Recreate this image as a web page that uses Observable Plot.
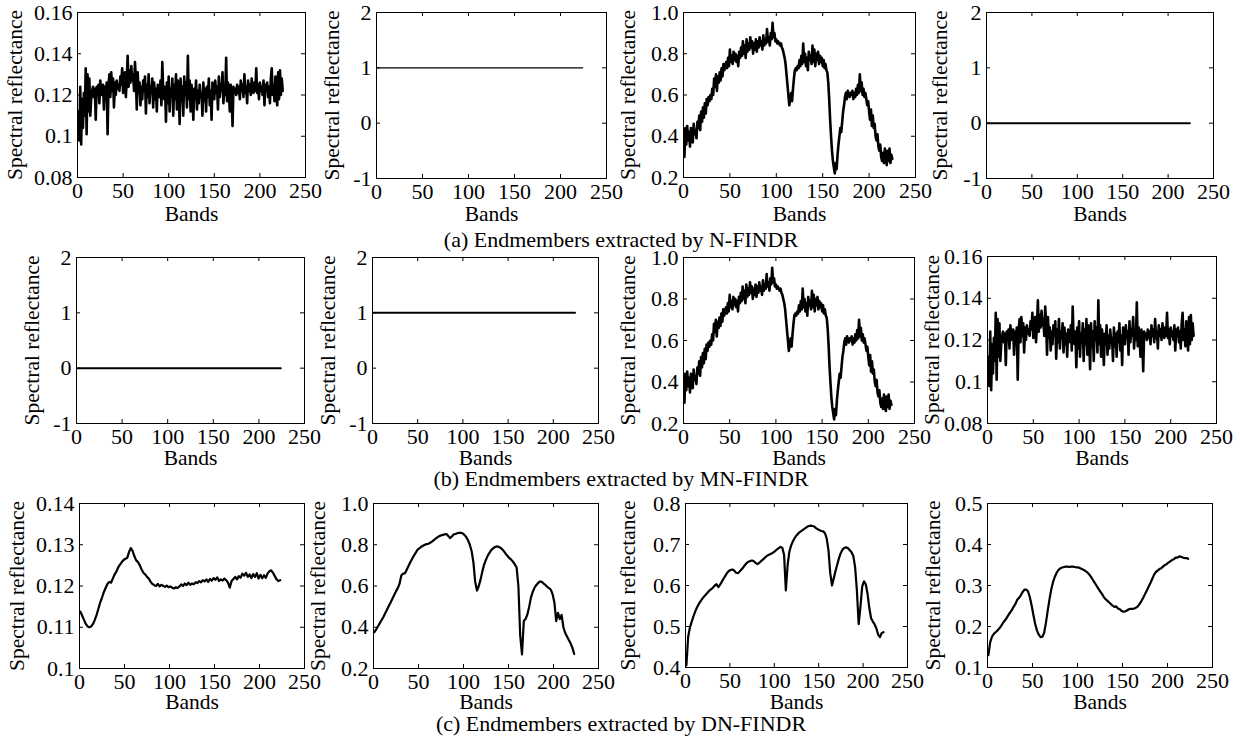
<!DOCTYPE html>
<html><head><meta charset="utf-8">
<script src="https://cdn.jsdelivr.net/npm/d3@7"></script>
<script src="https://cdn.jsdelivr.net/npm/@observablehq/plot@0.6"></script>
<style>
html,body{margin:0;padding:0;background:#fff;}
#chart{position:relative;width:1240px;height:742px;overflow:hidden;background:#fff;font-family:"Liberation Serif","Times New Roman",Times,"DejaVu Serif",serif;color:#000;}
.panel{position:absolute;}
.caption{position:absolute;transform:translateX(-50%);font-size:22px;line-height:22px;white-space:nowrap;}
</style></head><body><div id="chart"></div>
<script>
// ---------- data ----------
const xTicks = [0, 50, 100, 150, 200, 250];
const xLabel = "Bands";
const yLabel = "Spectral reflectance";
const captions = [
  "(a) Endmembers extracted by N-FINDR",
  "(b) Endmembers extracted by MN-FINDR",
  "(c) Endmembers extracted by DN-FINDR"
];

// noisy endmember (~0.12), bands 1..225
const noisyValues = [
0.112,0.098,0.124,0.096,0.118,0.104,0.121,0.110,0.133,0.101,0.130,0.112,0.128,0.110,0.118,
0.122,0.124,0.119,0.123,0.108,0.124,0.121,0.125,0.116,0.127,0.122,0.120,0.125,0.113,0.124,
0.118,0.126,0.101,0.125,0.130,0.119,0.131,0.122,0.128,0.114,0.126,0.120,0.127,0.123,0.125,
0.122,0.129,0.125,0.133,0.121,0.128,0.131,0.119,0.127,0.139,0.124,0.132,0.126,0.134,0.127,
0.130,0.122,0.136,0.128,0.113,0.131,0.121,0.126,0.115,0.124,0.118,0.127,0.122,0.129,0.111,
0.125,0.119,0.130,0.116,0.124,0.121,0.128,0.114,0.126,0.118,0.123,0.112,0.125,0.120,0.119,
0.127,0.115,0.136,0.121,0.118,0.124,0.107,0.126,0.116,0.129,0.112,0.123,0.119,0.128,0.110,
0.125,0.118,0.130,0.113,0.127,0.121,0.106,0.128,0.117,0.124,0.110,0.129,0.120,0.126,0.114,
0.139,0.118,0.127,0.112,0.125,0.120,0.108,0.123,0.118,0.127,0.113,0.122,0.116,0.125,0.119,
0.121,0.110,0.126,0.117,0.123,0.112,0.124,0.119,0.128,0.115,0.122,0.108,0.126,0.120,0.118,
0.127,0.121,0.124,0.113,0.129,0.119,0.125,0.122,0.131,0.116,0.124,0.120,0.138,0.117,0.126,
0.121,0.112,0.125,0.119,0.105,0.124,0.122,0.123,0.120,0.125,0.121,0.124,0.118,0.127,0.122,
0.125,0.119,0.130,0.121,0.124,0.116,0.127,0.122,0.125,0.120,0.128,0.123,0.121,0.126,0.122,
0.133,0.121,0.125,0.118,0.126,0.122,0.124,0.120,0.127,0.115,0.125,0.122,0.126,0.119,0.124,
0.116,0.128,0.133,0.120,0.125,0.117,0.129,0.121,0.115,0.131,0.118,0.132,0.120,0.128,0.122
];

// noisy vegetation-like endmember (0.2-1.0), bands 1..225
const vegValues = [
0.30,0.44,0.36,0.45,0.38,0.42,0.35,0.44,0.40,0.37,0.46,0.41,0.43,0.39,0.47,
0.44,0.50,0.43,0.52,0.47,0.54,0.49,0.56,0.51,0.58,0.55,0.59,0.57,0.60,0.58,
0.63,0.60,0.68,0.64,0.70,0.62,0.69,0.66,0.71,0.67,0.73,0.69,0.75,0.72,0.74,
0.76,0.73,0.78,0.74,0.82,0.76,0.79,0.75,0.81,0.77,0.80,0.76,0.79,0.74,0.81,
0.78,0.83,0.79,0.86,0.80,0.84,0.78,0.87,0.81,0.85,0.82,0.88,0.83,0.86,0.80,
0.85,0.82,0.87,0.81,0.86,0.83,0.88,0.84,0.86,0.82,0.89,0.84,0.87,0.85,0.92,
0.86,0.88,0.84,0.90,0.87,0.95,0.88,0.90,0.86,0.87,0.85,0.86,0.85,0.84,0.85,
0.83,0.82,0.80,0.78,0.75,0.70,0.65,0.60,0.55,0.58,0.61,0.57,0.63,0.68,0.72,
0.73,0.72,0.74,0.73,0.77,0.74,0.79,0.75,0.85,0.76,0.80,0.74,0.78,0.72,0.81,
0.77,0.79,0.75,0.84,0.76,0.82,0.74,0.80,0.77,0.81,0.75,0.79,0.76,0.78,0.74,
0.77,0.73,0.75,0.72,0.71,0.66,0.58,0.48,0.40,0.33,0.28,0.25,0.22,0.27,0.24,
0.31,0.36,0.40,0.44,0.42,0.47,0.52,0.55,0.59,0.61,0.58,0.62,0.60,0.59,0.61,
0.60,0.62,0.58,0.61,0.59,0.63,0.60,0.65,0.61,0.70,0.62,0.66,0.60,0.63,0.59,
0.61,0.58,0.55,0.57,0.52,0.48,0.53,0.45,0.50,0.44,0.46,0.40,0.38,0.41,0.35,
0.33,0.36,0.30,0.28,0.32,0.27,0.34,0.29,0.26,0.33,0.28,0.34,0.27,0.31,0.29
];

// flat endmembers (bands 1 and 224)
const flatBands = [1, 224];
const flatOne = [1, 1];
const flatZero = [0, 0];

// DN-FINDR endmembers, sampled at bands 1,3,5,...,223
const dn1Values = [
0.1138,0.1128,0.1118,0.1108,0.1102,0.1100,0.1102,0.1108,0.1118,0.1130,0.1145,0.1160,0.1172,0.1185,0.1195,0.1205,
0.1210,0.1208,0.1218,0.1228,0.1235,0.1245,0.1252,0.1258,0.1263,0.1266,0.1268,0.1282,0.1292,0.1285,0.1272,0.1262,
0.1258,0.1250,0.1240,0.1232,0.1228,0.1222,0.1218,0.1210,0.1205,0.1202,0.1200,0.1205,0.1199,0.1203,0.1200,0.1198,
0.1201,0.1197,0.1199,0.1196,0.1194,0.1197,0.1195,0.1199,0.1204,0.1200,0.1206,0.1202,0.1208,0.1203,0.1206,0.1204,
0.1209,0.1207,0.1212,0.1209,0.1214,0.1211,0.1216,0.1210,0.1217,0.1213,0.1219,0.1215,0.1221,0.1212,0.1216,0.1213,
0.1218,0.1214,0.1208,0.1196,0.1212,0.1217,0.1222,0.1216,0.1224,0.1220,0.1230,0.1225,0.1232,0.1222,0.1228,0.1219,
0.1229,0.1222,0.1231,0.1218,0.1227,0.1219,0.1226,0.1220,0.1230,0.1236,0.1238,0.1232,0.1224,0.1216,0.1212,0.1214
];
const dn2Values = [
0.376,0.390,0.405,0.420,0.435,0.450,0.468,0.485,0.503,0.520,0.538,0.556,0.574,0.590,0.612,0.652,
0.660,0.662,0.680,0.698,0.716,0.732,0.748,0.762,0.776,0.783,0.790,0.795,0.800,0.803,0.805,0.810,
0.815,0.822,0.830,0.836,0.842,0.845,0.848,0.850,0.852,0.843,0.832,0.840,0.850,0.852,0.856,0.858,
0.858,0.855,0.848,0.838,0.822,0.800,0.770,0.715,0.620,0.578,0.600,0.632,0.672,0.705,0.728,0.748,
0.762,0.775,0.783,0.789,0.792,0.790,0.786,0.778,0.768,0.756,0.745,0.735,0.728,0.718,0.705,0.690,
0.600,0.360,0.268,0.430,0.440,0.462,0.500,0.545,0.572,0.592,0.605,0.615,0.622,0.620,0.612,0.605,
0.596,0.590,0.582,0.560,0.520,0.430,0.470,0.440,0.460,0.400,0.372,0.355,0.338,0.322,0.300,0.270
];
const dn3Values = [
0.405,0.475,0.498,0.512,0.525,0.537,0.547,0.555,0.562,0.568,0.573,0.578,0.583,0.588,0.591,0.595,
0.600,0.603,0.596,0.602,0.610,0.617,0.624,0.631,0.636,0.638,0.639,0.636,0.631,0.630,0.634,0.639,
0.644,0.650,0.655,0.658,0.660,0.661,0.659,0.655,0.652,0.655,0.659,0.663,0.667,0.671,0.674,0.676,
0.678,0.681,0.684,0.688,0.691,0.694,0.692,0.675,0.588,0.650,0.683,0.698,0.708,0.716,0.722,0.727,
0.731,0.734,0.737,0.740,0.743,0.745,0.746,0.745,0.744,0.740,0.737,0.735,0.733,0.732,0.728,0.715,
0.686,0.630,0.600,0.618,0.636,0.652,0.668,0.680,0.688,0.692,0.693,0.691,0.686,0.681,0.672,0.645,
0.588,0.506,0.548,0.598,0.610,0.603,0.580,0.545,0.520,0.512,0.505,0.495,0.480,0.474,0.484,0.486
];
const dn4Values = [
0.130,0.162,0.175,0.182,0.186,0.190,0.195,0.201,0.208,0.214,0.220,0.227,0.234,0.240,0.248,0.255,
0.265,0.270,0.276,0.284,0.290,0.290,0.286,0.272,0.252,0.228,0.206,0.190,0.180,0.174,0.175,0.185,
0.210,0.240,0.268,0.292,0.310,0.322,0.332,0.338,0.342,0.344,0.345,0.346,0.346,0.345,0.346,0.346,
0.345,0.344,0.344,0.342,0.340,0.338,0.335,0.332,0.327,0.321,0.314,0.307,0.300,0.293,0.286,0.280,
0.273,0.267,0.263,0.259,0.255,0.251,0.248,0.249,0.244,0.242,0.238,0.236,0.237,0.239,0.242,0.243,
0.243,0.244,0.246,0.249,0.255,0.262,0.270,0.279,0.288,0.297,0.306,0.316,0.326,0.333,0.336,0.340,
0.342,0.346,0.350,0.352,0.356,0.359,0.362,0.364,0.368,0.368,0.371,0.370,0.368,0.367,0.367,0.365
];

// y-axis ticks and their printed labels
const yTicksSmall = [0.08, 0.10, 0.12, 0.14, 0.16];
const yLabelsSmall = ["0.08", "0.1", "0.12", "0.14", "0.16"];
const yTicksFlat = [-1, 0, 1, 2];
const yLabelsFlat = ["-1", "0", "1", "2"];
const yTicksVeg = [0.2, 0.4, 0.6, 0.8, 1.0];
const yLabelsVeg = ["0.2", "0.4", "0.6", "0.8", "1.0"];
const yTicksDn1 = [0.10, 0.11, 0.12, 0.13, 0.14];
const yLabelsDn1 = ["0.1", "0.11", "0.12", "0.13", "0.14"];
const yTicksDn3 = [0.4, 0.5, 0.6, 0.7, 0.8];
const yLabelsDn3 = ["0.4", "0.5", "0.6", "0.7", "0.8"];
const yTicksDn4 = [0.1, 0.2, 0.3, 0.4, 0.5];
const yLabelsDn4 = ["0.1", "0.2", "0.3", "0.4", "0.5"];

// ---------- layout ----------
const fullBands = d3.range(1, noisyValues.length + 1);
const halfBands = d3.range(0, dn1Values.length).map(i => 1 + 2 * i);

const panels = [
  {frame: [77, 12, 305, 177], labelX: 15, xlabDy: 37, bands: fullBands, values: noisyValues, ticks: yTicksSmall, labels: yLabelsSmall, lw: 2.6},
  {frame: [376, 12, 606, 178], labelX: 332, xlabDy: 36, bands: flatBands, values: flatOne, ticks: yTicksFlat, labels: yLabelsFlat, lw: 1.4},
  {frame: [683, 12, 915, 177], labelX: 628, xlabDy: 37, bands: fullBands, values: vegValues, ticks: yTicksVeg, labels: yLabelsVeg, lw: 2.6},
  {frame: [986, 12, 1213, 178], labelX: 940, xlabDy: 36, bands: flatBands, values: flatZero, ticks: yTicksFlat, labels: yLabelsFlat, lw: 2},
  {frame: [76, 257, 304, 423], labelX: 32, xlabDy: 35, bands: flatBands, values: flatZero, ticks: yTicksFlat, labels: yLabelsFlat, lw: 2},
  {frame: [372, 257, 598, 423], labelX: 328, xlabDy: 35, bands: flatBands, values: flatOne, ticks: yTicksFlat, labels: yLabelsFlat, lw: 2},
  {frame: [683, 257, 914, 423], labelX: 628, xlabDy: 35, bands: fullBands, values: vegValues, ticks: yTicksVeg, labels: yLabelsVeg, lw: 2.6},
  {frame: [987, 256, 1216, 423], labelX: 932, xlabDy: 35, bands: fullBands, values: noisyValues, ticks: yTicksSmall, labels: yLabelsSmall, lw: 2.6},
  {frame: [79, 503, 304, 668], labelX: 17, xlabDy: 34, bands: halfBands, values: dn1Values, ticks: yTicksDn1, labels: yLabelsDn1, lw: 2.2},
  {frame: [373, 503, 598, 668], labelX: 318, xlabDy: 34, bands: halfBands, values: dn2Values, ticks: yTicksVeg, labels: yLabelsVeg, lw: 2.2},
  {frame: [685, 503, 907, 667], labelX: 628, xlabDy: 35, bands: halfBands, values: dn3Values, ticks: yTicksDn3, labels: yLabelsDn3, lw: 2.2},
  {frame: [987, 503, 1212, 667], labelX: 933, xlabDy: 35, bands: halfBands, values: dn4Values, ticks: yTicksDn4, labels: yLabelsDn4, lw: 2.2}
];
const captionY = [240, 479, 724];
const captionX = 621;

const FONT = '"Liberation Serif","Times New Roman",Times,"DejaVu Serif",serif';
const M = {left: 80, right: 24, top: 10, bottom: 50};
const TICK = 4;
const chart = document.getElementById("chart");

for (const p of panels) {
  const [L, T, R, B] = p.frame;
  const w = R - L, h = B - T;
  const data = p.values.map((v, i) => ({band: p.bands[i], value: v}));
  const fmt = d => {
    const i = p.ticks.findIndex(t => Math.abs(t - d) < 1e-9);
    return i >= 0 ? p.labels[i] : "";
  };
  const svg = Plot.plot({
    width: w + M.left + M.right,
    height: h + M.top + M.bottom,
    marginLeft: M.left, marginRight: M.right, marginTop: M.top, marginBottom: M.bottom,
    style: {fontFamily: FONT, fontSize: "22px", color: "black", background: "transparent", overflow: "visible"},
    x: {domain: [0, 250]},
    y: {domain: [p.ticks[0], p.ticks[p.ticks.length - 1]]},
    marks: [
      Plot.line(data, {x: "band", y: "value", stroke: "black", strokeWidth: p.lw}),
      Plot.ruleX(xTicks, {x: d => d, stroke: "black", insetTop: h - TICK}),
      Plot.ruleX(xTicks, {x: d => d, stroke: "black", insetBottom: h - TICK}),
      Plot.ruleY(p.ticks, {y: d => d, stroke: "black", insetRight: w - TICK}),
      Plot.ruleY(p.ticks, {y: d => d, stroke: "black", insetLeft: w - TICK}),
      Plot.frame({stroke: "black", strokeWidth: 1}),
      Plot.axisX({ticks: xTicks, tickSize: 0, tickPadding: 5, fontSize: 22, fontFamily: FONT, label: null, tickFormat: d => String(d)}),
      Plot.axisY({ticks: p.ticks, tickSize: 0, tickPadding: 5, fontSize: 22, fontFamily: FONT, label: null, tickFormat: fmt}),
      Plot.text([xLabel], {text: d => d, frameAnchor: "bottom", dy: p.xlabDy, lineAnchor: "middle", textAnchor: "middle", fontSize: 21.5, fontFamily: FONT}),
      Plot.text([yLabel], {text: d => d, frameAnchor: "left", dx: -(L - p.labelX), rotate: -90, lineAnchor: "middle", textAnchor: "middle", fontSize: 21.5, fontFamily: FONT})
    ]
  });
  const div = document.createElement("div");
  div.className = "panel";
  div.style.left = (L - M.left) + "px";
  div.style.top = (T - M.top) + "px";
  div.style.width = (w + M.left + M.right) + "px";
  div.appendChild(svg);
  chart.appendChild(div);
}

captions.forEach((c, i) => {
  const d = document.createElement("div");
  d.className = "caption";
  d.textContent = c;
  d.style.left = captionX + "px";
  d.style.top = (captionY[i] - 11) + "px";
  chart.appendChild(d);
});
</script>
</body></html>
